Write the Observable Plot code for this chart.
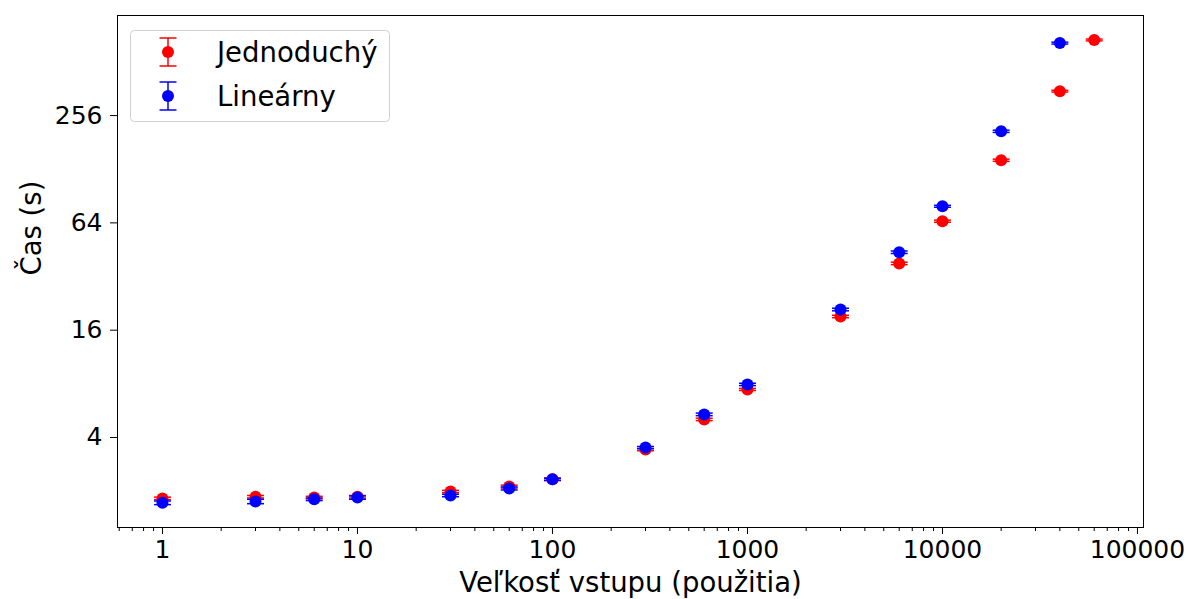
<!DOCTYPE html>
<html>
<head>
<meta charset="utf-8">
<script src="https://cdn.jsdelivr.net/npm/d3@7"></script>
<script src="https://cdn.jsdelivr.net/npm/@observablehq/plot@0.6"></script>
<style>
  body { margin: 0; background: #fff; }
  #wrap { position: relative; width: 1193px; height: 599px; }
  #legend { position: absolute; left: 130px; top: 30px; }
</style>
</head>
<body>
<div id="wrap"></div>
<script>
// ---- data ----
const sizesSimple = [1, 3, 6, 10, 30, 60, 100, 300, 600, 1000, 3000, 6000, 10000, 20000, 40000, 60000];
const timesSimple = [1.82, 1.86, 1.84, 1.86, 1.99, 2.12, 2.33, 3.42, 5.05, 7.44, 19.1, 37.9, 65.4, 143.8, 351, 680];
const errSimple   = [0.03, 0.03, 0.03, 0.03, 0.03, 0.04, 0.04, 0.05, 0.08, 0.10, 0.3, 0.6, 0.9, 2.0, 4.0, 8.0];

const sizesLinear = [1, 3, 6, 10, 30, 60, 100, 300, 600, 1000, 3000, 6000, 10000, 20000, 40000];
const timesLinear = [1.72, 1.75, 1.80, 1.84, 1.89, 2.07, 2.33, 3.51, 5.39, 7.94, 20.9, 43.8, 79.3, 209, 653];
const errLinear   = [0.04, 0.05, 0.03, 0.04, 0.03, 0.04, 0.03, 0.05, 0.09, 0.12, 0.35, 0.7, 1.0, 3.0, 8.0];

const seriesNames = ["Jednoduchý", "Lineárny"];
const seriesColors = ["#ff0000", "#0000ff"];

const xMajorTicks = [1, 10, 100, 1000, 10000, 100000];
const yTicks = [4, 16, 64, 256];
const xLabel = "Veľkosť vstupu (použitia)";
const yLabel = "Čas (s)";

// ---- build tables ----
const simple = sizesSimple.map((x, i) => ({x, v: timesSimple[i], e: errSimple[i]}));
const linear = sizesLinear.map((x, i) => ({x, v: timesLinear[i], e: errLinear[i]}));

const xMinorTicks = [];
for (let p = -1; p <= 4; p++) {
  for (let m = 2; m <= 9; m++) {
    const t = m * Math.pow(10, p);
    if (t >= 0.588 && t <= 107400) xMinorTicks.push(+t.toPrecision(3));
  }
}

const capSymbol = { draw(ctx) { ctx.moveTo(-8.5, 0); ctx.lineTo(8.5, 0); } };

function seriesMarks(data, color) {
  return [
    Plot.ruleX(data, {x: "x", y1: d => d.v - d.e, y2: d => d.v + d.e, stroke: color, strokeWidth: 1.5}),
    Plot.dot(data, {x: "x", y: d => d.v + d.e, symbol: capSymbol, stroke: color, strokeWidth: 1.5, fill: "none"}),
    Plot.dot(data, {x: "x", y: d => d.v - d.e, symbol: capSymbol, stroke: color, strokeWidth: 1.5, fill: "none"}),
    Plot.dot(data, {x: "x", y: "v", r: 6, fill: color, stroke: "none"})
  ];
}

const chart = Plot.plot({
  width: 1193,
  height: 599,
  marginLeft: 117,
  marginRight: 50,
  marginTop: 15,
  marginBottom: 72,
  style: {fontFamily: "DejaVu Sans", fontSize: "25px", background: "#fff", color: "#000"},
  x: {type: "log", domain: [0.588, 107400]},
  y: {type: "log", base: 2, domain: [1.25, 933]},
  marks: [
    Plot.axisX(xMinorTicks, {tickSize: 4, text: null, label: null, stroke: "#000", strokeWidth: 1}),
    Plot.axisX(xMajorTicks, {tickSize: 7, tickPadding: 6, tickFormat: d => String(d), fontSize: 25, label: null, stroke: "#000", strokeWidth: 1}),
    Plot.axisY(yTicks, {tickSize: 7, tickPadding: 8, tickFormat: d => String(d), fontSize: 25, label: null, stroke: "#000", strokeWidth: 1}),
    Plot.frame({stroke: "#000", strokeWidth: 1}),
    Plot.text([xLabel], {text: d => d, frameAnchor: "bottom", dy: 56, fontSize: 27.5, lineAnchor: "middle"}),
    Plot.text([yLabel], {text: d => d, frameAnchor: "left", dx: -85, dy: 4, rotate: -90, fontSize: 27.5, lineAnchor: "middle"}),
    ...seriesMarks(simple, seriesColors[0]),
    ...seriesMarks(linear, seriesColors[1])
  ]
});

const wrap = document.getElementById("wrap");
wrap.appendChild(chart);

// ---- legend ----
const legend = document.createElement("div");
legend.id = "legend";
let svg = `<svg width="261" height="93" xmlns="http://www.w3.org/2000/svg" style="font-family:'DejaVu Sans';font-size:27.5px">
<rect x="0.5" y="0.5" width="259" height="91" rx="4" ry="4" fill="rgba(255,255,255,0.8)" stroke="#d0d0d0" stroke-width="1"/>`;
seriesNames.forEach((name, i) => {
  const cy = 22 + i * 44;
  const c = seriesColors[i];
  svg += `<line x1="38" x2="38" y1="${cy - 14}" y2="${cy + 14}" stroke="${c}" stroke-width="1.5"/>
<line x1="29.5" x2="46.5" y1="${cy - 14}" y2="${cy - 14}" stroke="${c}" stroke-width="1.5"/>
<line x1="29.5" x2="46.5" y1="${cy + 14}" y2="${cy + 14}" stroke="${c}" stroke-width="1.5"/>
<circle cx="38" cy="${cy}" r="6" fill="${c}"/>
<text x="87" y="${cy}" dy="0.35em" fill="#000">${name}</text>`;
});
svg += `</svg>`;
legend.innerHTML = svg;
wrap.appendChild(legend);
</script>
</body>
</html>
